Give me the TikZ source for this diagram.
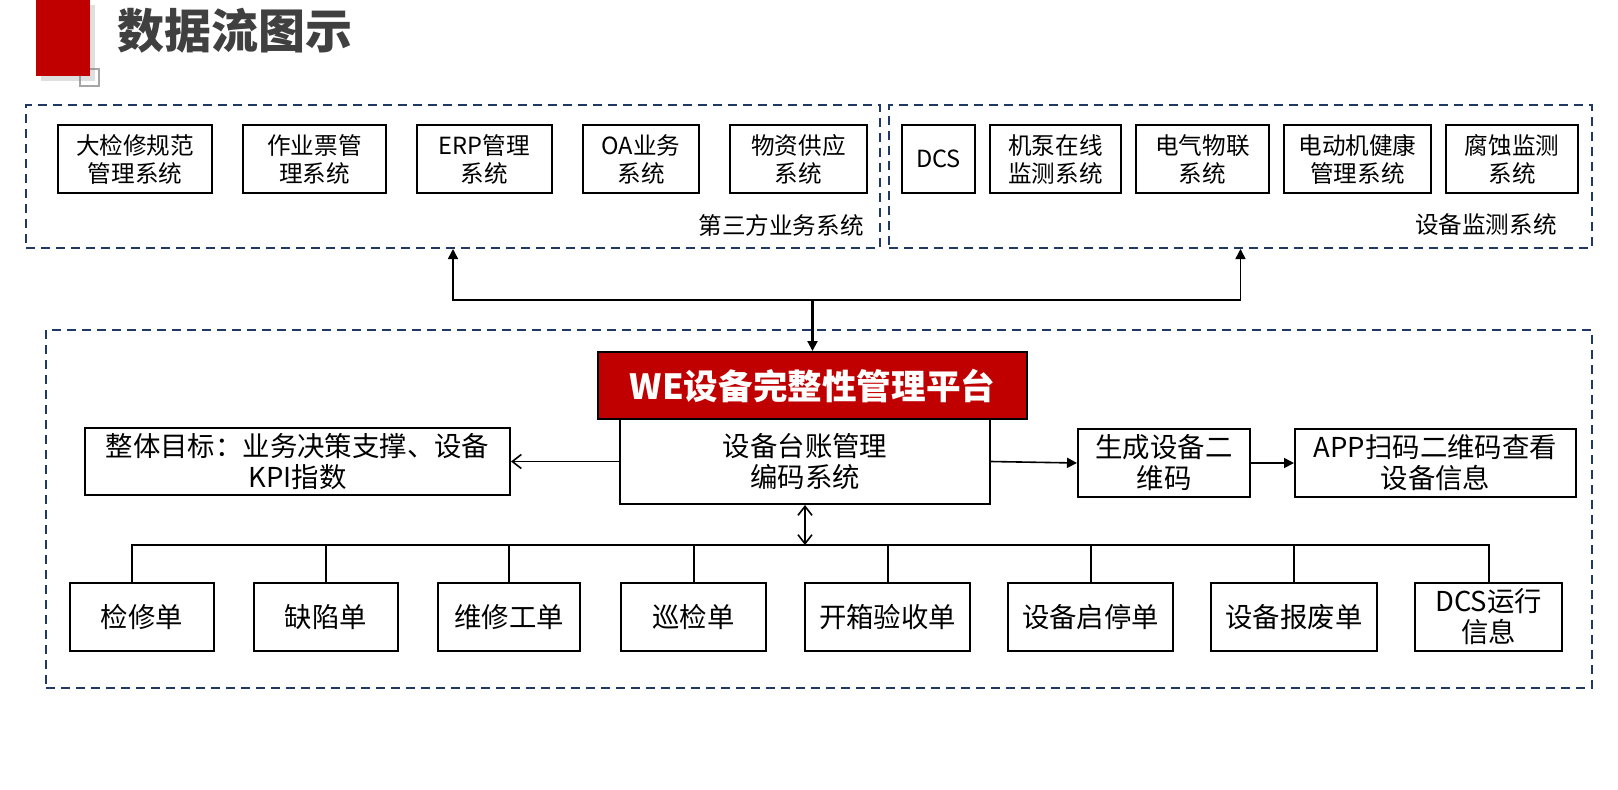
\documentclass[tikz,border=0pt]{standalone}
\usepackage{fontspec}
\setmainfont{Noto Sans CJK SC}
\usetikzlibrary{shadows, arrows.meta}
\definecolor{wered}{HTML}{C00000}
\definecolor{navy}{HTML}{1F3864}
\definecolor{ttlgray}{HTML}{404040}
\tikzset{
  box/.style={draw, line width=1pt, inner sep=0pt, align=center},
  sys/.style={box, minimum height=34pt, font=\fontsize{11.8}{14}\selectfont},
  doc/.style={box, minimum height=34pt, font=\fontsize{13.7}{15.5}\selectfont},
  grp/.style={draw=navy, line width=1pt, dash pattern=on 4.5pt off 3pt, inner sep=0pt},
  grplab/.style={anchor=east, inner sep=0pt, font=\fontsize{11.8}{14}\selectfont},
  arr/.style={-{Triangle[length=5pt, width=5pt]}, line width=0.8pt},
  barb/.style={-{Straight Barb[length=4.5pt, width=7pt]}, line width=0.8pt},
  dbarb/.style={{Straight Barb[length=4.5pt, width=7pt]}-{Straight Barb[length=4.5pt, width=7pt]}, line width=0.8pt},
}
\begin{document}
\begin{tikzpicture}[x=0.5pt, y=0.5pt, yscale=-1, xscale=1]
\useasboundingbox (0,0) rectangle (1618,789);
\draw[gray!70, line width=1.2pt] (80,69) rectangle (99,86);
\node[fill=wered, inner sep=0pt, minimum width=27pt, minimum height=38pt,
  drop shadow={opacity=0.25, shadow xshift=2.5pt, shadow yshift=-2.5pt}] (mark) at (63,38) {};
\node[anchor=west, inner sep=0pt, text=ttlgray, font=\fontsize{23.5}{28}\selectfont\bfseries] (title) at (117,31) {数据流图示};

\node[grp, minimum width=427pt, minimum height=71.5pt] (tp) at (453,176.5) {};
\node[grp, minimum width=351.5pt, minimum height=71.5pt] (mon) at (1240.5,176.5) {};
\node[grp, minimum width=773pt, minimum height=179pt] (core) at (819,509) {};
\node[grplab] (tplab) at (864,225) {第三方业务系统};
\node[grplab] (monlab) at (1557,225) {设备监测系统};

\node[sys, minimum width=77pt] (tp1) at (135,159) {大检修规范\\管理系统};
\node[sys, minimum width=71.5pt] (tp2) at (314.5,159) {作业票管\\理系统};
\node[sys, minimum width=67.5pt] (tp3) at (484.5,159) {ERP管理\\系统};
\node[sys, minimum width=58pt] (tp4) at (641,159) {OA业务\\系统};
\node[sys, minimum width=68.5pt] (tp5) at (798.5,159) {物资供应\\系统};

\node[sys, minimum width=36.5pt] (mon1) at (938.5,159) {DCS};
\node[sys, minimum width=65.5pt] (mon2) at (1055.5,159) {机泵在线\\监测系统};
\node[sys, minimum width=66.5pt] (mon3) at (1202.5,159) {电气物联\\系统};
\node[sys, minimum width=73.5pt] (mon4) at (1357.5,159) {电动机健康\\管理系统};
\node[sys, minimum width=66pt] (mon5) at (1512,159) {腐蚀监测\\系统};

\node[box, fill=wered, text=white, minimum width=214.5pt, minimum height=33.5pt,
  font=\fontsize{17.3}{20}\selectfont\bfseries] (plat) at (812.5,385.5) {WE设备完整性管理平台};
\node[doc, minimum width=185pt, minimum height=42.5pt] (ledger) at (805,461.5) {设备台账管理\\编码系统};
\node[doc, minimum width=212.5pt, minimum height=33.5pt] (goal) at (297.5,461.5) {整体目标：业务决策支撑、设备\\KPI指数};
\node[doc, minimum width=86pt] (qr) at (1164,463) {生成设备二\\维码};
\node[doc, minimum width=140.5pt] (app) at (1435.5,463) {APP扫码二维码查看\\设备信息};

\node[doc, minimum width=72pt] (d1) at (142,617) {检修单};
\node[doc, minimum width=72pt] (d2) at (326,617) {缺陷单};
\node[doc, minimum width=71pt] (d3) at (509,617) {维修工单};
\node[doc, minimum width=72.5pt] (d4) at (693.5,617) {巡检单};
\node[doc, minimum width=82.5pt] (d5) at (887.5,617) {开箱验收单};
\node[doc, minimum width=82.5pt] (d6) at (1090.5,617) {设备启停单};
\node[doc, minimum width=83pt] (d7) at (1294,617) {设备报废单};
\node[doc, minimum width=73.5pt] (d8) at (1488.5,617) {DCS运行\\信息};

\coordinate (hub) at (812.5,300);
\coordinate (bus) at (805,545);
\draw[arr] (hub) -| (tp.south);
\draw[arr] (hub) -| (mon.south);
\draw[arr, line width=1.1pt] (hub) -- (plat.north);
\draw[barb] (ledger.west) -- (goal.east);
\draw[arr] (ledger.east) -- (qr.west);
\draw[arr] (qr.east) -- (app.west);
\draw[dbarb] (ledger.south) -- (bus);
\draw[line width=1pt] ([xshift=-5pt]d1.north) |- (bus) -| (d8.north);
\foreach \i in {2,...,7}
  \draw[line width=1pt] (d\i.north) -- (d\i.north |- bus);
\end{tikzpicture}
\end{document}
